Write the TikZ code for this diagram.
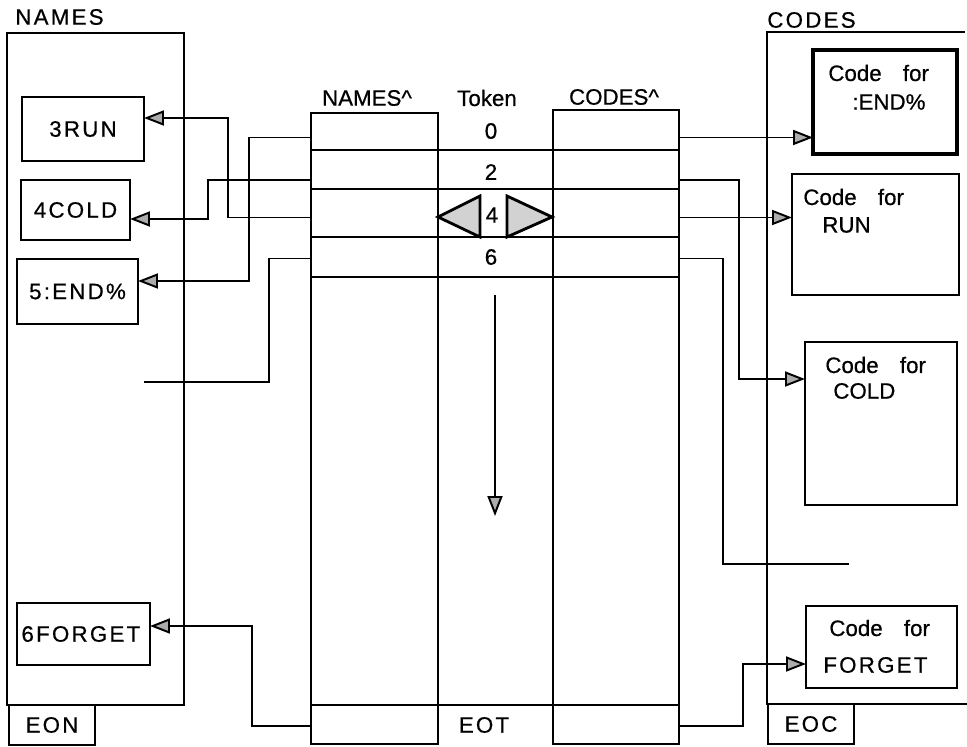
\documentclass[tikz,border=0pt]{standalone}
\usepackage{fontspec}
\setmainfont{Liberation Sans}[FakeBold=0.6]
\newfontfamily\lsfont{Liberation Sans}[LetterSpace=10,FakeBold=0.6]
\usetikzlibrary{arrows.meta,calc}
\tikzset{
 bx/.style={draw, line width=1.6pt, inner sep=0pt, outer sep=0pt},
 conn/.style={line width=0.8pt},
 arr/.style={conn, -{Triangle[length=0.4cm,width=0.3cm,line width=1.1pt,fill=gray!65]}},
 txt/.style={font=\fontsize{12.7}{15}\selectfont, inner sep=0pt},
 stxt/.style={font=\fontsize{12.7}{15}\selectfont\lsfont, inner sep=0pt},
 divider/.style={line width=1.1pt},
 tri/.style={draw, line width=1.6pt, fill=gray!35, line join=miter},
}
\newcommand\Bx[7][]{\node[bx,stxt,minimum width={(#5-#3)*0.02cm},minimum height={(#6-#4)*0.02cm},#1] (#2) at ({(#3+#5)/2},{(#4+#6)/2}) {#7};}
\newcommand\codefor{Code\hspace{0.95em}for}
\begin{document}
\begin{tikzpicture}[x=0.02cm,y=-0.02cm]
\useasboundingbox (0,0) rectangle (967,747);
% outer NAMES area
\Bx{namesbox}{7}{33}{184}{705}{}
\Bx{eon}{9}{705}{95}{745}{EON}
\node[stxt, anchor=west] (lnames) at (15,17) {NAMES};
% CODES area
\draw[line width=1.6pt] (965,32) -- (767,32) -- (767,704) -- (967,704);
\Bx{eoc}{768}{704}{854}{744}{EOC}
\node[stxt, anchor=west] (lcodes) at (767,20) {CODES};
% name boxes
\Bx{b3}{22}{97}{144}{161}{3RUN}
\Bx{b4}{21}{180}{130}{240}{4COLD}
\Bx{b5}{17}{259}{138}{324}{5:END\%}
\Bx{b6}{17}{603}{150}{665}{\hspace{-3pt}6FORGET}
% code boxes
\Bx[line width=2.3pt]{cE}{813}{50}{957}{154}{}
\Bx{cR}{792}{174}{959}{295}{}
\Bx{cC}{805}{342}{957}{505}{}
\Bx{cF}{806}{606}{957}{688}{}
\node[txt, anchor=west] (cE1) at (828,73) {\codefor};
\node[txt, anchor=west] (cE2) at (852,102) {:END\%};
\node[txt, anchor=west] (cR1) at (803,197) {\codefor};
\node[txt, anchor=west] (cR2) at (822,225) {RUN};
\node[txt, anchor=west] (cC1) at (825,365) {\codefor};
\node[txt, anchor=west] (cC2) at (833,391) {COLD};
\node[txt, anchor=west] (cF1) at (829,628) {\codefor};
\node[stxt, anchor=west] (cF2) at (823,665) {FORGET};
% pointer tables
\Bx{np}{311}{113}{438}{744}{}
\Bx{cp}{553}{110}{679}{744}{}
\node[txt] (hn) at (367,98) {NAMES\textasciicircum};
\node[txt] (ht) at (487,98) {Token};
\node[txt] (hc) at (614,97) {CODES\textasciicircum};
\foreach \yy in {150,189,237,277,705}
  \draw[divider] (np.west |- 0,\yy) -- (cp.east |- 0,\yy);
\node[txt] (t0) at (491,131) {0};
\node[txt] (t2) at (491,172) {2};
\node[txt] (t4) at (492,215) {4};
\node[txt] (t6) at (491,257) {6};
\node[stxt] (teot) at (484,725) {EOT};
% row coordinates
\coordinate (r0) at (495,137.5);
\coordinate (r2) at (495,180);
\coordinate (r4) at (495,217.5);
\coordinate (r6) at (495,258.5);
\coordinate (rE) at (495,726);
\coordinate (e6) at (144,382);
\coordinate (e9) at (849,564);
% triangles in row 4
\draw[tri] (438,217) -- (480,196) -- (480,237) -- cycle;
\draw[tri] (507,196) -- (507,237) -- (552,217) -- cycle;
% down arrow
\coordinate (da1) at (495,295);
\coordinate (da2) at (495,516);
\draw[arr] (da1) -- (da2);
% left connectors
\draw[arr] (np.west |- r4) -- ++(-83,0) |- ([yshift=0.22cm]b3.east);
\draw[arr] (np.west |- r2) -- ++(-103,0) |- ([yshift=-0.18cm]b4.east);
\draw[arr] (np.west |- r0) -- ++(-62,0) |- ([yshift=0.21cm]b5.east);
\draw[conn] (np.west |- r6) -- ++(-42,0) |- (e6);
\draw[arr] (np.west |- rE) -- ++(-59,0) |- ([yshift=0.16cm]b6.east);
% right connectors
\draw[arr] (cp.east |- r0) -- (cE.west |- r0);
\draw[arr] (cp.east |- r4) -- (cR.west |- r4);
\draw[arr] (cp.east |- r2) -- ++(60,0) |- ([yshift=0.89cm]cC.west);
\draw[conn] (cp.east |- r6) -- ++(44,0) |- (e9);
\draw[arr] (cp.east |- rE) -- ++(64,0) |- ([yshift=-0.34cm]cF.west);
\end{tikzpicture}
\end{document}
